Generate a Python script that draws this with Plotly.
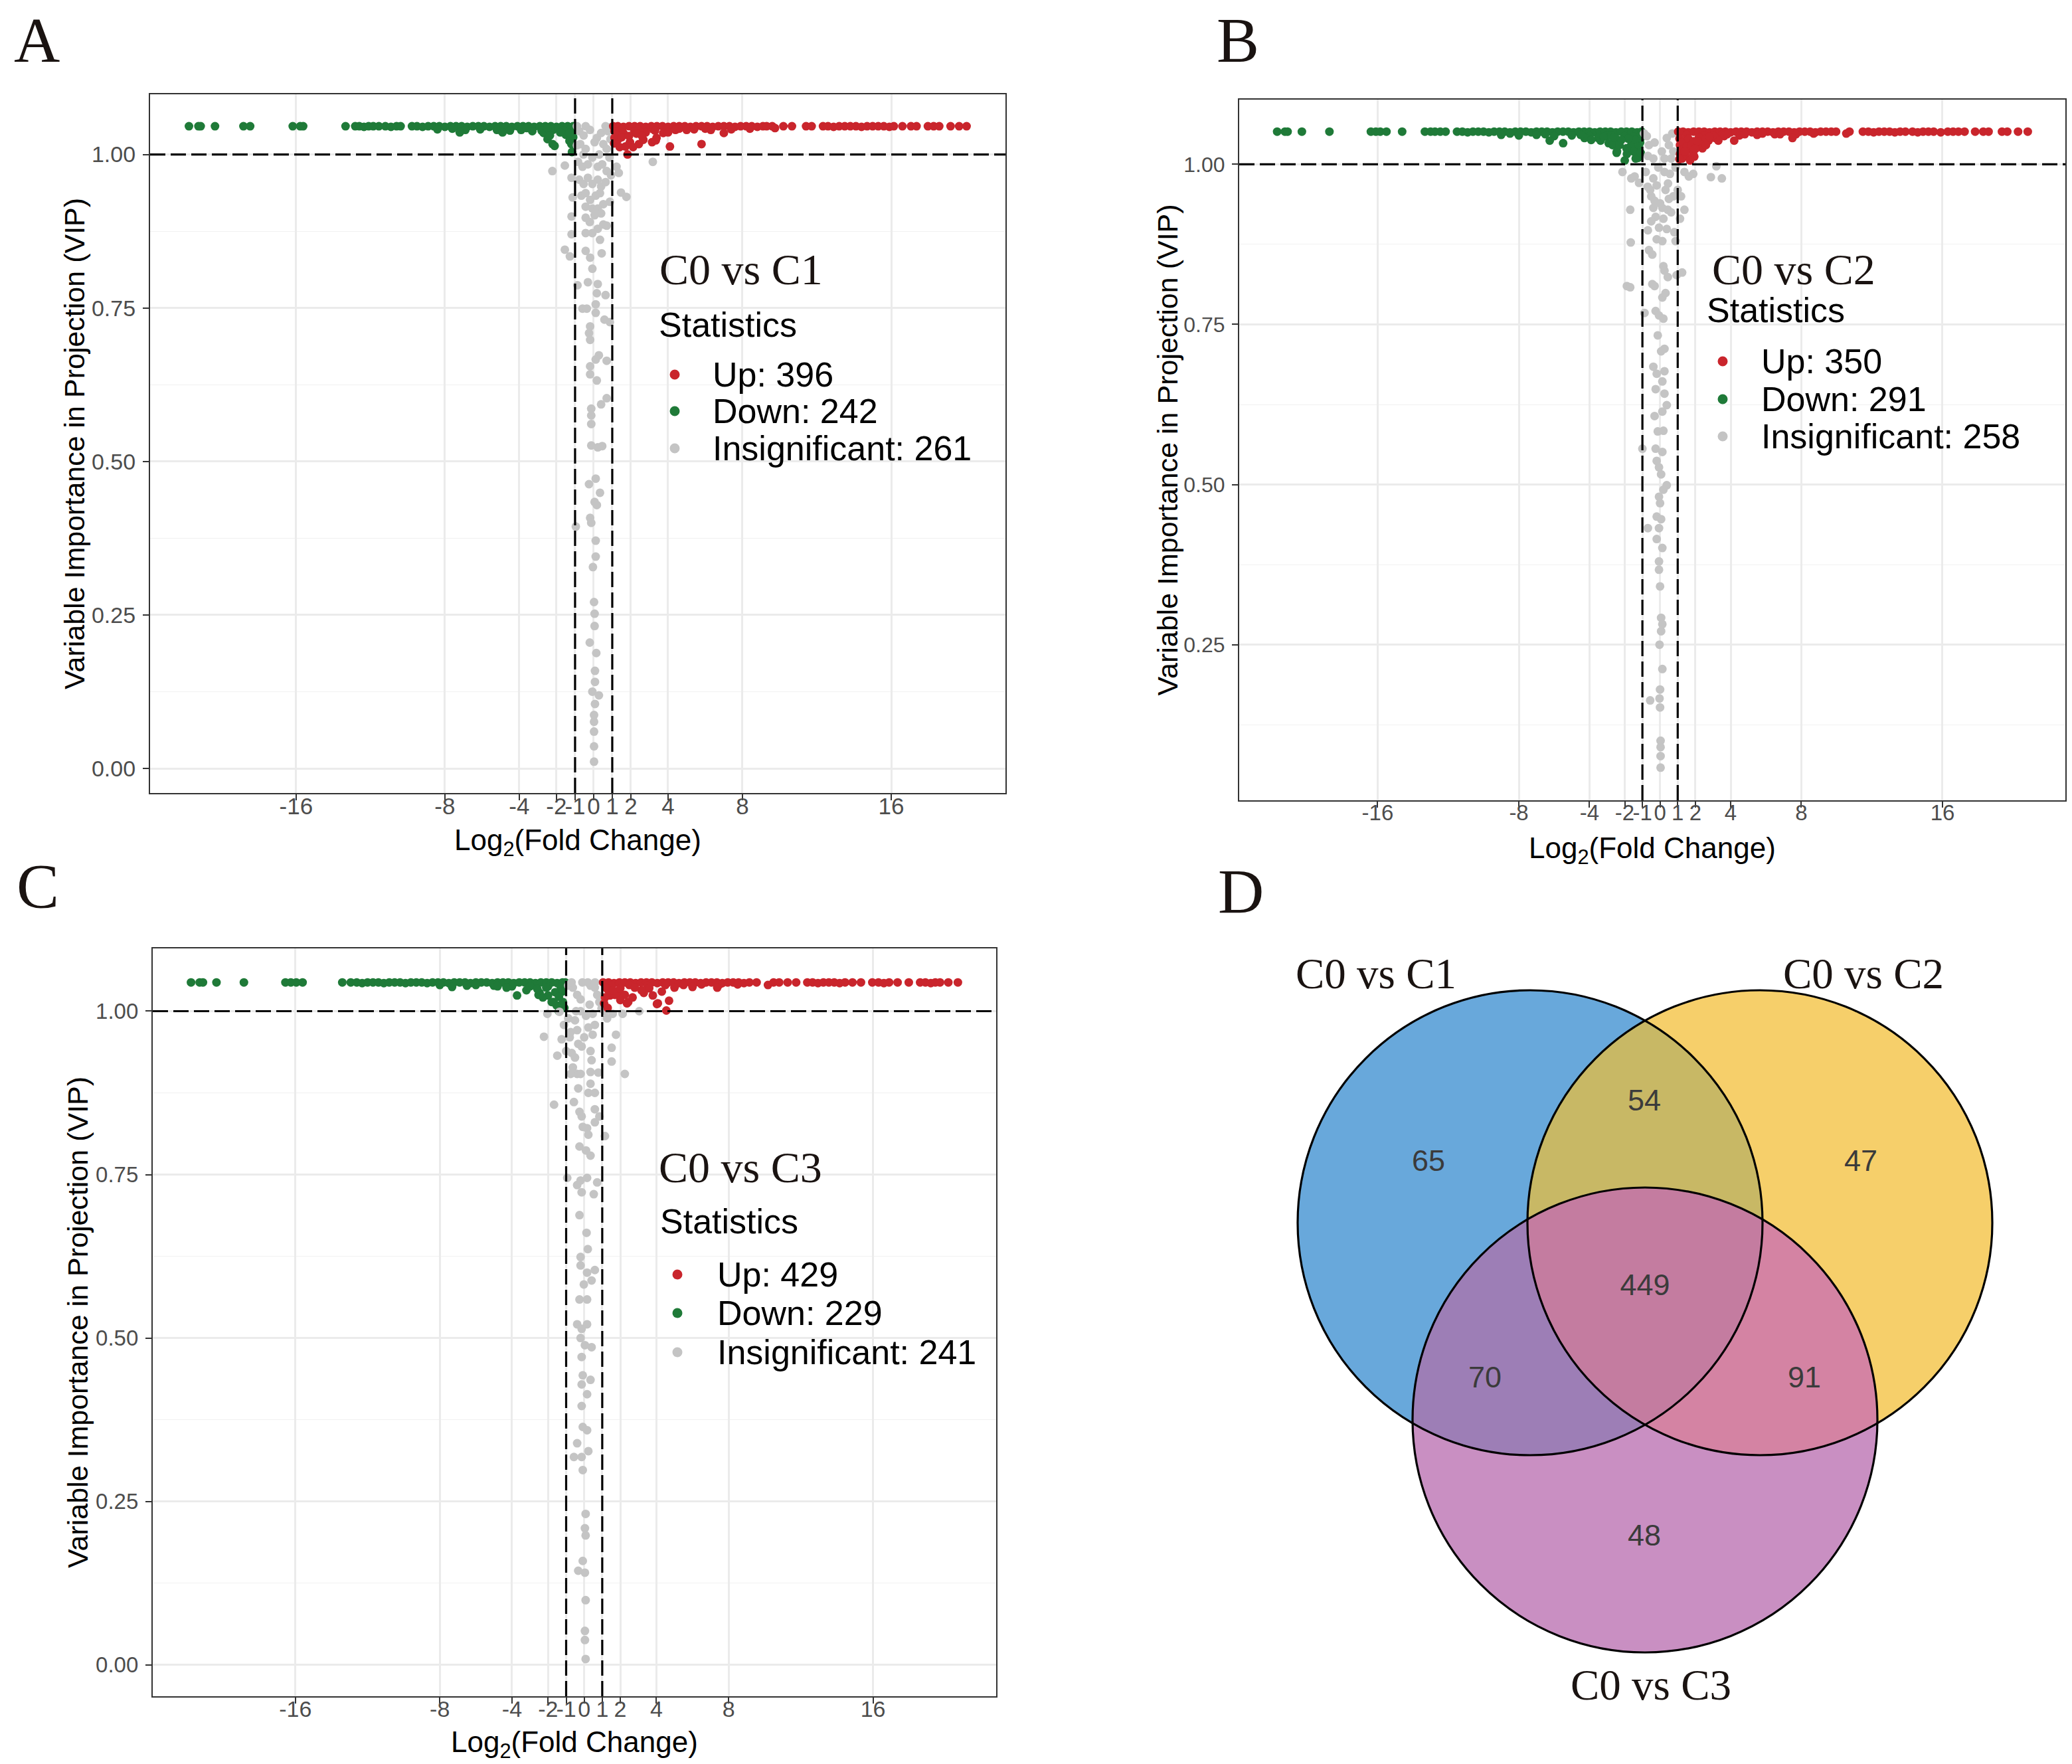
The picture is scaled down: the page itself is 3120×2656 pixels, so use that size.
import math

import plotly.graph_objects as go

W, H = 3120, 2656
OFF = 8  # the page body margin that the browser adds around the plot div
SANS = "Liberation Sans, Arial, sans-serif"
SERIF = "Liberation Serif, Times New Roman, serif"

UP_COLOR = "#C9252C"
DOWN_COLOR = "#1F7A38"
NS_COLOR = "#C4C4C4"

X_TICKS = [-16, -8, -4, -2, -1, 0, 1, 2, 4, 8, 16]
Y_TICKS_AC = [0.0, 0.25, 0.5, 0.75, 1.0]
Y_TICKS_B = [0.25, 0.5, 0.75, 1.0]
Y_MINOR = [0.125, 0.375, 0.625, 0.875]
FC_CUT = [-1, 1]
VIP_CUT = 1.0

COMPARISONS = ["C0 vs C1", "C0 vs C2", "C0 vs C3"]
N_UP = [396, 350, 429]
N_DOWN = [242, 291, 229]
N_NS = [261, 258, 241]

# (log2FC, VIP)
A_DOWN = [
    (-21.76, 1.046), (-21.25, 1.046), (-21.13, 1.046), (-20.36, 1.046), (-18.83, 1.046), (-18.47, 1.046),
    (-16.18, 1.046), (-15.78, 1.046), (-15.62, 1.046), (-13.34, 1.046), (-12.82, 1.046), (-12.6, 1.046),
    (-12.35, 1.045), (-12.1, 1.046), (-11.85, 1.046), (-11.55, 1.046), (-11.2, 1.046), (-10.9, 1.045),
    (-10.6, 1.046), (-10.38, 1.046), (-9.77, 1.046), (-9.5, 1.046), (-9.2, 1.045), (-8.9, 1.046),
    (-8.6, 1.046), (-8.3, 1.046), (-8.0, 1.045), (-7.7, 1.046), (-7.4, 1.046), (-7.1, 1.046),
    (-6.8, 1.045), (-6.5, 1.046), (-6.2, 1.046), (-5.9, 1.046), (-5.6, 1.045), (-5.3, 1.046),
    (-5.0, 1.046), (-4.7, 1.046), (-4.4, 1.045), (-4.1, 1.046), (-3.8, 1.046), (-3.5, 1.046),
    (-3.2, 1.045), (-2.9, 1.046), (-2.6, 1.046), (-2.3, 1.046), (-2.0, 1.045), (-1.7, 1.046),
    (-1.4, 1.046), (-1.1, 1.046), (-8.4, 1.041), (-7.6, 1.042), (-6.9, 1.040), (-6.1, 1.041),
    (-5.2, 1.040), (-4.5, 1.039), (-3.9, 1.040), (-3.3, 1.038), (-2.8, 1.039), (-2.2, 1.040),
    (-1.6, 1.039), (-1.2, 1.038), (-1.5, 1.032), (-1.1, 1.028), (-1.3, 1.022), (-2.69, 1.035),
    (-2.48, 1.025), (-2.21, 1.017), (-2.1, 1.014), (-1.2, 1.017), (-1.17, 1.004), (-1.14, 1.031),
    (-7.2, 1.036), (-4.9, 1.036), (-1.2, 1.044), (-1.9, 1.042), (-2.5, 1.043), (-3.6, 1.043),
    (-1.3, 1.035), (-1.8, 1.036), (-2.35, 1.031),
]
A_UP = [
    (1.05, 1.046), (1.3, 1.046), (1.6, 1.045), (1.9, 1.046), (2.2, 1.046), (2.5, 1.046), (2.8, 1.045),
    (3.1, 1.046), (3.4, 1.046), (3.7, 1.046), (4.0, 1.045), (4.3, 1.046), (4.6, 1.046), (4.9, 1.046),
    (5.2, 1.045), (5.5, 1.046), (5.8, 1.046), (6.1, 1.046), (6.4, 1.045), (6.7, 1.046), (7.0, 1.046),
    (7.3, 1.046), (7.6, 1.045), (7.9, 1.046), (8.2, 1.046), (8.5, 1.046), (8.8, 1.045), (9.1, 1.046),
    (9.3, 1.046), (9.6, 1.046), (10.2, 1.046), (10.66, 1.046), (11.42, 1.046), (11.72, 1.046),
    (12.33, 1.046), (12.6, 1.046), (12.9, 1.045), (13.2, 1.046), (13.5, 1.046), (13.8, 1.046),
    (14.1, 1.046), (14.4, 1.045), (14.7, 1.046), (15.0, 1.046), (15.3, 1.046), (15.6, 1.046),
    (15.9, 1.045), (16.14, 1.046), (16.6, 1.046), (17.06, 1.046), (17.36, 1.046), (17.97, 1.046),
    (18.28, 1.046), (18.58, 1.046), (19.19, 1.046), (19.65, 1.046), (20.05, 1.046),
    (1.5, 1.041), (2.4, 1.040), (3.2, 1.041), (4.4, 1.040), (5.4, 1.041), (6.3, 1.040), (7.4, 1.041),
    (8.4, 1.042), (1.12, 1.038), (1.6, 1.035), (2.19, 1.038), (3.74, 1.035), (1.12, 1.027), (1.3, 1.024),
    (1.71, 1.013), (1.95, 1.020), (2.43, 1.017), (2.67, 1.024), (3.14, 1.020), (3.38, 1.027), (4.1, 1.013),
    (1.82, 1.000), (2.12, 1.012), (3.34, 1.023), (5.8, 1.017), (7.0, 1.035), (9.75, 1.043),
    (1.2, 1.032), (1.5, 1.028), (1.9, 1.030), (2.3, 1.034), (2.8, 1.036), (3.3, 1.039), (1.1, 1.018),
    (1.4, 1.012), (2.6, 1.030), (4.6, 1.042), (4.0, 1.036), (5.0, 1.040), (6.0, 1.042),
]
A_NS = [
    (-2.22, 0.973), (-1.55, 0.982), (-1.19, 0.962), (-1.13, 0.930), (-1.19, 0.899), (-1.19, 0.870),
    (-1.55, 0.845), (-1.28, 0.834), (-0.87, 0.787), (-0.60, 0.749), (-0.37, 0.749), (1.47, 0.938),
    (1.76, 0.931), (1.23, 0.980), (1.35, 0.970), (3.18, 0.988), (0.87, 0.923), (0.70, 0.884),
    (0.34, 0.861), (0.43, 0.839), (-0.43, 0.872), (-0.21, 0.890), (-0.43, 0.843), (-0.19, 0.832),
    (-0.07, 0.814), (-0.31, 0.792), (0.22, 0.789), (0.17, 0.774), (0.64, 0.771), (0.11, 0.756),
    (0.11, 0.742), (0.58, 0.731), (0.87, 0.727), (-0.19, 0.720), (-0.19, 0.698), (-0.25, 0.709),
    (0.28, 0.673), (0.11, 0.666), (0.70, 0.664), (-0.19, 0.655), (-0.19, 0.642), (0.17, 0.632),
    (0.40, 0.593), (0.70, 0.603), (-0.13, 0.586), (-0.13, 0.575), (-0.13, 0.561), (-0.13, 0.526),
    (0.22, 0.523), (0.46, 0.525), (-0.25, 0.463), (0.11, 0.472), (0.34, 0.449), (0.05, 0.434),
    (0.17, 0.429), (-0.19, 0.408), (-0.13, 0.400), (-0.96, 0.394), (0.11, 0.371), (0.11, 0.345),
    (-0.04, 0.328), (0.02, 0.271), (0.05, 0.252), (0.05, 0.232), (-0.21, 0.205), (0.14, 0.188),
    (0.07, 0.159), (0.07, 0.141), (-0.07, 0.125), (0.28, 0.119), (0.07, 0.105), (0.02, 0.087),
    (0.02, 0.076), (0.02, 0.060), (0.02, 0.036), (0.02, 0.011),
    (-0.78, 1.038), (-0.54, 1.031), (-0.43, 1.046), (-0.72, 1.017), (-0.43, 1.009), (0.17, 1.027),
    (0.40, 1.035), (0.64, 1.046), (0.76, 1.038), (0.52, 1.017), (0.70, 1.009), (-0.84, 0.988),
    (-0.60, 0.980), (-0.31, 0.984), (-0.07, 0.995), (0.22, 0.980), (0.46, 0.984), (0.70, 0.973),
    (0.93, 0.966), (-0.78, 0.959), (-0.54, 0.952), (-0.31, 0.962), (-0.07, 0.952), (0.22, 0.959),
    (0.40, 0.948), (0.64, 0.955), (-0.66, 0.933), (-0.43, 0.937), (-0.19, 0.926), (0.11, 0.933),
    (0.34, 0.937), (0.52, 0.919), (-0.43, 0.915), (-0.07, 0.912), (0.22, 0.912), (-0.43, 0.897),
    (0.05, 0.901), (0.40, 0.904), (-0.07, 0.872), (0.22, 0.879), (0.52, 0.886), (0.85, 1.044),
    (0.90, 1.025), (-0.90, 1.046), (-0.20, 1.040), (0.05, 1.020), (-0.55, 1.000), (0.30, 1.000),
    (0.85, 0.995), (-0.90, 1.015),
]

# panel B
B_DOWN = [
    (-21.69, 1.051), (-21.25, 1.051), (-21.1, 1.051), (-20.29, 1.051), (-18.73, 1.051), (-16.38, 1.051),
    (-16.1, 1.051), (-15.85, 1.051), (-15.5, 1.051), (-14.61, 1.051), (-13.32, 1.051), (-13.0, 1.051),
    (-12.75, 1.051), (-12.45, 1.051), (-12.15, 1.051), (-11.5, 1.051), (-11.2, 1.051), (-10.9, 1.050),
    (-10.6, 1.051), (-10.3, 1.051), (-10.0, 1.051), (-9.7, 1.050), (-9.4, 1.051), (-9.1, 1.051),
    (-8.8, 1.051), (-8.5, 1.050), (-8.2, 1.051), (-7.9, 1.051), (-7.6, 1.051), (-7.3, 1.050),
    (-7.0, 1.051), (-6.7, 1.051), (-6.4, 1.051), (-6.1, 1.050), (-5.8, 1.051), (-5.5, 1.051),
    (-5.2, 1.051), (-4.9, 1.050), (-4.6, 1.051), (-4.3, 1.051), (-4.0, 1.051), (-3.7, 1.050),
    (-3.4, 1.051), (-3.1, 1.051), (-2.8, 1.051), (-2.5, 1.050), (-2.2, 1.051), (-1.9, 1.051),
    (-1.6, 1.051), (-1.3, 1.050), (-1.05, 1.051), (-9.0, 1.046), (-8.0, 1.045), (-7.0, 1.046),
    (-6.0, 1.044), (-5.0, 1.045), (-4.0, 1.044), (-3.0, 1.045), (-2.0, 1.044), (-1.5, 1.043),
    (-1.1, 1.041), (-2.5, 1.040), (-3.5, 1.041), (-5.49, 1.033), (-6.25, 1.037), (-2.91, 1.033),
    (-2.46, 1.018), (-2.0, 1.006), (-1.25, 1.010), (-1.57, 1.025), (-4.28, 1.041), (-3.37, 1.037),
    (-2.76, 1.045), (-2.69, 1.030), (-2.44, 1.020), (-1.88, 1.016), (-1.38, 1.009), (-1.25, 1.023),
    (-1.13, 1.034), (-1.63, 1.030), (-1.1, 1.045), (-1.4, 1.038), (-1.8, 1.040), (-2.2, 1.038),
    (-2.6, 1.042), (-1.2, 1.028), (-1.5, 1.020), (-1.9, 1.025), (-1.1, 1.018), (-3.2, 1.043),
    (-4.5, 1.046), (-6.5, 1.047), (-8.5, 1.048), (-3.9, 1.038), (-2.3, 1.030),
]
B_UP = [
    (1.03, 1.051), (1.3, 1.051), (1.6, 1.050), (1.9, 1.051), (2.2, 1.051), (2.5, 1.051), (2.8, 1.050),
    (3.1, 1.051), (3.4, 1.051), (3.7, 1.051), (4.0, 1.050), (4.3, 1.051), (4.6, 1.051), (4.9, 1.051),
    (5.2, 1.050), (5.5, 1.051), (5.8, 1.051), (6.1, 1.051), (6.4, 1.050), (6.7, 1.051), (7.0, 1.051),
    (7.3, 1.051), (7.6, 1.050), (7.9, 1.051), (8.2, 1.051), (8.5, 1.051), (8.8, 1.050), (9.1, 1.051),
    (9.4, 1.051), (9.7, 1.051), (9.97, 1.051), (10.55, 1.048), (10.73, 1.051), (11.49, 1.051),
    (11.8, 1.051), (12.1, 1.050), (12.4, 1.051), (12.7, 1.051), (13.0, 1.051), (13.3, 1.050),
    (13.6, 1.051), (13.9, 1.051), (14.3, 1.051), (14.6, 1.050), (14.9, 1.051), (15.2, 1.051),
    (15.5, 1.051), (15.9, 1.050), (16.3, 1.051), (16.6, 1.051), (16.9, 1.051), (17.25, 1.051),
    (17.85, 1.051), (18.31, 1.051), (18.61, 1.051), (19.37, 1.051), (19.67, 1.051), (20.28, 1.051),
    (20.83, 1.051), (1.5, 1.046), (2.5, 1.045), (3.5, 1.046), (4.5, 1.045), (5.5, 1.046), (6.5, 1.047),
    (7.7, 1.047), (8.7, 1.048), (1.13, 1.016), (1.25, 1.009), (1.44, 1.013), (1.63, 1.023), (1.88, 1.016),
    (2.13, 1.030), (2.38, 1.034), (2.75, 1.037), (3.13, 1.041), (3.63, 1.044), (1.38, 1.034), (1.13, 1.030),
    (1.94, 1.012), (2.4, 1.025), (3.3, 1.037), (4.2, 1.037), (7.5, 1.041),
    (1.1, 1.040), (1.3, 1.035), (1.6, 1.040), (1.9, 1.036), (2.2, 1.042), (2.6, 1.040), (3.0, 1.045),
    (1.2, 1.022), (1.5, 1.028), (1.8, 1.030), (2.1, 1.036), (1.1, 1.008), (1.4, 1.020), (2.0, 1.024),
    (2.8, 1.043), (3.8, 1.047), (4.8, 1.047), (5.8, 1.048), (6.8, 1.047), (1.7, 1.006), (2.6, 1.030),
]
B_NS = [
    (-2.13, 0.988), (-1.63, 0.978), (-1.44, 0.981), (-1.19, 0.971), (-1.69, 0.929), (-1.66, 0.878),
    (-1.88, 0.810), (-1.69, 0.808), (-0.75, 1.044), (-0.63, 1.030), (-0.31, 1.034), (-0.69, 1.013),
    (0.38, 1.041), (0.69, 1.048), (0.50, 1.030), (0.75, 1.020), (-0.81, 0.988), (-0.38, 0.978),
    (-0.19, 0.967), (0.25, 0.988), (0.56, 0.985), (0.88, 0.995), (1.38, 0.988), (1.63, 0.981),
    (1.88, 0.985), (2.88, 0.980), (3.50, 0.978), (3.19, 0.997), (-0.50, 0.950), (-0.38, 0.932),
    (-0.25, 0.918), (0.13, 0.932), (0.44, 0.929), (0.75, 0.950), (1.00, 0.960), (1.19, 0.950),
    (1.38, 0.929), (1.13, 0.915), (-0.69, 0.897), (-0.50, 0.911), (-0.06, 0.901), (0.38, 0.899),
    (0.81, 0.894), (-0.19, 0.883), (0.13, 0.880), (0.88, 0.880), (-0.63, 0.866), (-0.44, 0.859),
    (0.19, 0.841), (0.25, 0.834), (0.94, 0.827), (1.25, 0.831), (-0.44, 0.813), (-0.31, 0.810),
    (0.44, 0.824), (0.13, 0.792), (0.31, 0.799), (-0.88, 0.768), (-0.25, 0.771), (-0.06, 0.764),
    (0.19, 0.759), (-0.13, 0.733), (0.06, 0.708), (0.25, 0.712), (-0.38, 0.684), (-0.19, 0.673),
    (0.25, 0.677), (0.13, 0.661), (-0.25, 0.649), (0.25, 0.642), (0.38, 0.624), (-0.31, 0.607),
    (0.13, 0.614), (-0.13, 0.583), (0.19, 0.584), (-1.00, 0.556), (-0.25, 0.556), (0.13, 0.551),
    (-0.19, 0.537), (-0.06, 0.527), (0.06, 0.516), (0.38, 0.499), (0.19, 0.492), (-0.06, 0.481),
    (0.00, 0.471), (-0.19, 0.450), (0.06, 0.446), (-0.06, 0.432), (-0.69, 0.432), (-0.19, 0.415),
    (0.13, 0.401), (-0.06, 0.380), (-0.06, 0.367), (0.00, 0.341), (0.06, 0.292), (0.13, 0.282),
    (0.06, 0.271), (-0.03, 0.250), (0.13, 0.212), (-0.56, 0.163), (0.00, 0.180), (-0.03, 0.166),
    (0.00, 0.152), (0.03, 0.100), (0.03, 0.090), (0.03, 0.076), (0.03, 0.058),
    (-0.56, 0.960), (-0.31, 0.943), (0.00, 0.939), (0.31, 0.960), (0.50, 0.946), (0.19, 0.915),
    (0.63, 0.925), (-0.38, 1.009), (0.25, 1.009), (0.63, 1.009), (-0.90, 1.048), (0.10, 1.020),
    (-0.10, 0.995), (0.45, 0.970), (-0.70, 0.965),
]

# panel C
C_DOWN = [
    (-21.78, 1.044), (-21.3, 1.044), (-21.12, 1.044), (-20.37, 1.044), (-18.85, 1.044), (-16.55, 1.044),
    (-16.25, 1.044), (-15.95, 1.044), (-15.6, 1.044), (-13.4, 1.044), (-12.93, 1.044), (-12.6, 1.044),
    (-12.3, 1.043), (-12.0, 1.044), (-11.7, 1.044), (-11.4, 1.044), (-11.1, 1.043), (-10.8, 1.044),
    (-10.5, 1.044), (-10.2, 1.044), (-9.9, 1.043), (-9.6, 1.044), (-9.3, 1.044), (-9.0, 1.044),
    (-8.7, 1.043), (-8.4, 1.044), (-8.1, 1.044), (-7.8, 1.044), (-7.5, 1.043), (-7.2, 1.044),
    (-6.9, 1.044), (-6.6, 1.044), (-6.3, 1.043), (-6.0, 1.044), (-5.7, 1.044), (-5.4, 1.044),
    (-5.1, 1.043), (-4.8, 1.044), (-4.5, 1.044), (-4.2, 1.044), (-3.9, 1.043), (-3.6, 1.044),
    (-3.3, 1.044), (-3.0, 1.044), (-2.7, 1.043), (-2.4, 1.044), (-2.1, 1.044), (-1.8, 1.044),
    (-1.5, 1.043), (-1.2, 1.044), (-1.05, 1.044), (-8.0, 1.040), (-6.5, 1.039), (-5.0, 1.039),
    (-4.0, 1.038), (-3.0, 1.038), (-2.0, 1.038), (-1.3, 1.037), (-7.32, 1.037), (-3.72, 1.024),
    (-2.47, 1.028), (-1.69, 1.014), (-1.53, 1.009), (-2.0, 1.024), (-4.3, 1.036), (-2.53, 1.025),
    (-2.29, 1.021), (-1.8, 1.014), (-1.18, 1.014), (-1.61, 1.029), (-2.1, 1.036),
    (-1.2, 1.030), (-1.4, 1.022), (-2.6, 1.034), (-3.2, 1.032), (-4.8, 1.038), (-6.0, 1.040),
    (-1.1, 1.005), (-1.4, 1.000),
]
C_UP = [
    (1.05, 1.044), (1.35, 1.044), (1.65, 1.043), (1.95, 1.044), (2.25, 1.044), (2.55, 1.044), (2.85, 1.043),
    (3.15, 1.044), (3.45, 1.044), (3.75, 1.044), (4.05, 1.043), (4.35, 1.044), (4.65, 1.044), (4.95, 1.044),
    (5.25, 1.043), (5.55, 1.044), (5.85, 1.044), (6.15, 1.044), (6.45, 1.043), (6.75, 1.044), (7.05, 1.044),
    (7.35, 1.044), (7.65, 1.043), (7.95, 1.044), (8.25, 1.044), (8.55, 1.044), (8.85, 1.043), (9.15, 1.044),
    (9.55, 1.044), (10.18, 1.040), (10.49, 1.044), (10.8, 1.044), (11.27, 1.044), (11.74, 1.044),
    (12.36, 1.044), (12.65, 1.044), (12.95, 1.043), (13.25, 1.044), (13.55, 1.044), (13.85, 1.044),
    (14.15, 1.043), (14.45, 1.044), (14.86, 1.044), (15.33, 1.044), (15.96, 1.044), (16.3, 1.044),
    (16.6, 1.043), (16.89, 1.044), (17.36, 1.044), (17.98, 1.044), (18.61, 1.044), (18.9, 1.044),
    (19.2, 1.043), (19.45, 1.044), (19.71, 1.044), (20.17, 1.044), (20.7, 1.044),
    (1.5, 1.039), (2.5, 1.040), (3.5, 1.039), (4.5, 1.040), (5.5, 1.040), (6.5, 1.041), (7.5, 1.041),
    (8.5, 1.041), (1.43, 1.024), (2.37, 1.012), (4.08, 1.012), (4.55, 1.001), (4.7, 1.016), (7.37, 1.036),
    (1.9, 1.028), (3.3, 1.028), (1.15, 1.021), (2.44, 1.014), (2.25, 1.025), (3.17, 1.032), (2.68, 1.021),
    (4.03, 1.011), (1.7, 1.025), (1.33, 1.032), (1.2, 1.036), (1.6, 1.032), (2.0, 1.035), (2.8, 1.036),
    (3.6, 1.035), (1.1, 1.012), (1.3, 1.005), (2.0, 1.017), (3.8, 1.024), (4.3, 1.030), (5.0, 1.036),
    (6.0, 1.037),
]
C_NS = [
    (-2.23, 0.961), (-2.04, 0.996), (-1.49, 0.932), (-1.67, 0.857), (-1.25, 0.957), (-1.37, 0.999),
    (-1.12, 0.979), (-0.88, 1.039), (-0.63, 1.036), (-0.39, 1.025), (-0.20, 1.018), (0.35, 1.039),
    (0.59, 1.036), (0.72, 1.025), (0.84, 1.014), (-0.88, 0.989), (-0.51, 0.986), (-0.20, 1.000),
    (0.10, 0.993), (0.47, 0.996), (0.96, 1.004), (1.15, 1.000), (1.27, 0.989), (1.58, 0.996),
    (2.13, 0.996), (3.05, 1.000), (1.76, 0.964), (1.52, 0.944), (1.52, 0.923), (2.25, 0.904),
    (-0.75, 0.968), (-0.39, 0.971), (0.23, 0.975), (0.47, 0.964), (0.59, 0.979), (-1.00, 0.939),
    (-0.69, 0.936), (-0.51, 0.929), (-0.33, 0.950), (-0.14, 0.946), (0.35, 0.939), (0.41, 0.925),
    (-0.63, 0.914), (-0.39, 0.904), (-0.75, 0.904), (-0.20, 0.904), (0.35, 0.907), (0.78, 0.906),
    (0.35, 0.889), (0.23, 0.875), (0.59, 0.875), (-0.33, 0.882), (-0.57, 0.861), (-0.26, 0.846),
    (-0.14, 0.839), (0.59, 0.850), (0.84, 0.839), (0.59, 0.830), (-0.08, 0.823), (0.16, 0.821),
    (0.23, 0.811), (1.15, 0.809), (-0.26, 0.793), (0.10, 0.787), (0.35, 0.779), (-0.94, 0.745),
    (-0.20, 0.741), (0.16, 0.745), (-0.39, 0.734), (-0.14, 0.723), (0.72, 0.738), (0.53, 0.720),
    (-0.26, 0.688), (0.13, 0.661), (0.20, 0.636), (-0.20, 0.624), (-0.20, 0.611), (0.16, 0.600),
    (0.59, 0.604), (0.41, 0.588), (-0.02, 0.582), (-0.26, 0.559), (0.16, 0.559), (-0.39, 0.521),
    (0.16, 0.521), (-0.14, 0.514), (0.41, 0.486), (-0.20, 0.500), (0.04, 0.489), (-0.14, 0.471),
    (-0.08, 0.443), (0.35, 0.436), (-0.14, 0.429), (0.16, 0.414), (-0.14, 0.396), (-0.08, 0.364),
    (0.16, 0.359), (-0.39, 0.339), (0.23, 0.327), (-0.57, 0.318), (-0.14, 0.318), (-0.08, 0.298),
    (0.08, 0.231), (0.04, 0.209), (0.08, 0.198), (-0.08, 0.159), (-0.33, 0.144), (0.04, 0.141),
    (0.08, 0.099), (0.04, 0.052), (0.04, 0.038), (0.08, 0.009),
    (-0.70, 1.044), (-0.10, 1.044), (0.20, 1.044), (0.60, 1.044), (-0.45, 1.000), (0.30, 1.010),
    (0.00, 0.960), (-0.80, 0.960),
]

# Venn counts: C1 only, C1&C2, C2 only, all three, C1&C3, C2&C3, C3 only
VENN_COUNTS = [65, 54, 47, 449, 70, 91, 48]

# ---- layout (pixels of the 3120 x 2656 page) ----
PANELS = [
    dict(dom_x=(226, 1514), dom_y=(142, 1194), xr=[-23.85, 22.14], yr=[-0.040, 1.098],
         yt=Y_TICKS_AC, tick=34, ytitle_x=112, xtitle_y=1268, letter="A", letter_xy=(55, 61),
         box=(945, 379, 1500, 772), head=(1116, 405), stat=(990, 489), dot_x=1016, txt_x=1071,
         rows=(564, 619, 675)),
    dict(dom_x=(1866, 3110), dom_y=(150, 1205), xr=[-23.84, 22.96], yr=[0.007, 1.101],
         yt=Y_TICKS_B, tick=32, ytitle_x=1757, xtitle_y=1280, letter="B", letter_xy=(1864, 61),
         box=(2545, 381, 3074, 768), head=(2701, 406), stat=(2568, 467), dot_x=2594, txt_x=2650,
         rows=(544, 601, 657)),
    dict(dom_x=(230, 1500), dom_y=(1428, 2554), xr=[-23.9, 22.82], yr=[-0.048, 1.096],
         yt=Y_TICKS_AC, tick=33, ytitle_x=117, xtitle_y=2626, letter="C", letter_xy=(57, 1334),
         box=(969, 1730, 1496, 2126), head=(1115, 1757), stat=(992, 1839), dot_x=1020, txt_x=1078,
         rows=(1919, 1977, 2036)),
]
GROUPS = [(A_DOWN, A_NS, A_UP), (B_DOWN, B_NS, B_UP), (C_DOWN, C_NS, C_UP)]

VENN_CENTERS = [(2304, 1841), (2650, 1841), (2477, 2138)]
VENN_R = 350
VENN_FILL = ["#68A8DB", "#F6CF6A", "#C98FC2"]
VENN_PAIR_FILL = {(0, 1): "#C8B865", (0, 2): "#9D7EB6", (1, 2): "#D483A3"}
VENN_CORE_FILL = "#C47CA0"
VENN_LABEL_XY = [(2151, 1752), (2476, 1661), (2802, 1752), (2477, 1939),
                 (2236, 2078), (2717, 2078), (2476, 2316)]
VENN_SET_XY = [(2072, 1466), (2806, 1466), (2486, 2537)]


def px(x):
    return (x - OFF) / W


def py(y):
    return 1 - (y - OFF) / H


def note(text, x, y, size, family=SANS, color="black", xanchor="center"):
    return dict(text=text, x=px(x), y=py(y), xref="paper", yref="paper", showarrow=False,
                xanchor=xanchor, yanchor="middle", font=dict(size=size, family=family, color=color))


def region_path(members, n=1440):
    pts = []
    for i in members:
        cx, cy = VENN_CENTERS[i]
        for k in range(n):
            t = 2 * math.pi * k / n
            x, y = cx + VENN_R * math.cos(t), cy + VENN_R * math.sin(t)
            ok = all(math.hypot(x - VENN_CENTERS[j][0], y - VENN_CENTERS[j][1]) <= VENN_R + 1e-6
                     for j in members if j != i)
            if ok:
                pts.append((x, y))
    mx = sum(p[0] for p in pts) / len(pts)
    my = sum(p[1] for p in pts) / len(pts)
    pts.sort(key=lambda p: math.atan2(p[1] - my, p[0] - mx))
    return "M " + " L ".join(f"{x:.1f},{y:.1f}" for x, y in pts) + " Z"


fig = go.Figure()
shapes = []
annotations = []
layout_axes = {}

for i, (p, groups) in enumerate(zip(PANELS, GROUPS)):
    n = "" if i == 0 else str(i + 1)
    xref, yref = f"x{n}", f"y{n}"
    for pts, color in zip(groups, [DOWN_COLOR, NS_COLOR, UP_COLOR]):
        fig.add_trace(go.Scatter(
            x=[q[0] for q in pts], y=[q[1] for q in pts], xaxis=xref, yaxis=yref,
            mode="markers", marker=dict(size=13, color=color, line=dict(width=0)),
            showlegend=False, hoverinfo="x+y",
        ))

    tickfont = dict(family=SANS, size=p["tick"], color="#4D4D4D")
    common = dict(showgrid=True, gridcolor="#EBEBEB", gridwidth=2.6, zeroline=False, showline=True,
                  mirror=True, linecolor="#333333", linewidth=2.2, ticks="outside", ticklen=9,
                  tickwidth=2.4, tickcolor="#333333", tickfont=tickfont, fixedrange=True)
    layout_axes[f"xaxis{n}"] = dict(
        common, domain=[px(p["dom_x"][0]), px(p["dom_x"][1])], range=p["xr"], anchor=yref,
        tickmode="array", tickvals=X_TICKS, ticktext=[str(v) for v in X_TICKS], tickangle=0,
        ticklabelstandoff=-21, tickfont=dict(tickfont, size=p["tick"] + 1),
    )
    layout_axes[f"yaxis{n}"] = dict(
        common, domain=[py(p["dom_y"][1]), py(p["dom_y"][0])], range=p["yr"], anchor=xref,
        tickmode="array", tickvals=p["yt"], ticktext=[f"{v:.2f}" for v in p["yt"]],
        ticklabelstandoff=4,
        minor=dict(tickvals=Y_MINOR, showgrid=True, gridcolor="#F1F1F1", gridwidth=1.4, ticks=""),
    )

    # threshold lines
    dash = dict(color="black", width=3.2, dash="23px,8px")
    for c in FC_CUT:
        shapes.append(dict(type="line", xref=xref, yref=f"{yref} domain", x0=c, x1=c, y0=0, y1=1,
                           line=dash, layer="above"))
    shapes.append(dict(type="line", xref=f"{xref} domain", yref=yref, x0=0, x1=1, y0=VIP_CUT,
                       y1=VIP_CUT, line=dash, layer="above"))

    # legend box and entries
    bx0, by0, bx1, by1 = p["box"]
    shapes.append(dict(type="rect", xref="paper", yref="paper", x0=px(bx0), x1=px(bx1),
                       y0=py(by1), y1=py(by0), fillcolor="white", line=dict(width=0),
                       layer="between"))
    annotations.append(note(COMPARISONS[i], p["head"][0], p["head"][1], 66, SERIF, "#1a1311"))
    annotations.append(note("Statistics", p["stat"][0], p["stat"][1], 52, xanchor="left"))
    labels = [f"Up: {N_UP[i]}", f"Down: {N_DOWN[i]}", f"Insignificant: {N_NS[i]}"]
    for lab, yy, col in zip(labels, p["rows"], [UP_COLOR, DOWN_COLOR, NS_COLOR]):
        r = 7.5
        shapes.append(dict(type="circle", xref="paper", yref="paper",
                           x0=px(p["dot_x"] - r), x1=px(p["dot_x"] + r),
                           y0=py(yy + r), y1=py(yy - r), fillcolor=col, line=dict(width=0)))
        annotations.append(note(lab, p["txt_x"], yy, 52, xanchor="left"))

    # axis titles and panel letter
    ymid = (p["dom_y"][0] + p["dom_y"][1]) / 2
    xmid = (p["dom_x"][0] + p["dom_x"][1]) / 2
    a = note("Variable Importance in Projection (VIP)", p["ytitle_x"], ymid, 43)
    a["textangle"] = -90
    annotations.append(a)
    annotations.append(note("Log<sub>2</sub>(Fold Change)", xmid, p["xtitle_y"], 44))
    annotations.append(note(p["letter"], p["letter_xy"][0], p["letter_xy"][1], 96, SERIF, "#1a1311"))

# ---- Venn diagram (panel D) ----
layout_axes["xaxis4"] = dict(domain=[px(1872), px(3120)], range=[1872, 3120], visible=False,
                             anchor="y4", fixedrange=True)
layout_axes["yaxis4"] = dict(domain=[py(2656), py(1300)], range=[2656, 1300], visible=False,
                             anchor="x4", fixedrange=True)
for (cx, cy), col in zip(VENN_CENTERS, VENN_FILL):
    shapes.append(dict(type="circle", xref="x4", yref="y4", x0=cx - VENN_R, x1=cx + VENN_R,
                       y0=cy - VENN_R, y1=cy + VENN_R, fillcolor=col, line=dict(width=0),
                       layer="below"))
for pair, col in VENN_PAIR_FILL.items():
    shapes.append(dict(type="path", xref="x4", yref="y4", path=region_path(pair), fillcolor=col,
                       line=dict(width=0), layer="below"))
shapes.append(dict(type="path", xref="x4", yref="y4", path=region_path((0, 1, 2)),
                   fillcolor=VENN_CORE_FILL, line=dict(width=0), layer="below"))
for cx, cy in VENN_CENTERS:
    shapes.append(dict(type="circle", xref="x4", yref="y4", x0=cx - VENN_R, x1=cx + VENN_R,
                       y0=cy - VENN_R, y1=cy + VENN_R, fillcolor="rgba(0,0,0,0)",
                       line=dict(color="black", width=3.2), layer="below"))

fig.add_trace(go.Scatter(
    x=[q[0] for q in VENN_LABEL_XY], y=[q[1] for q in VENN_LABEL_XY], xaxis="x4", yaxis="y4",
    mode="text", text=[str(v) for v in VENN_COUNTS],
    textfont=dict(family=SANS, size=45, color="#3B3B3B"), showlegend=False, hoverinfo="text",
))
for name, (x, y) in zip(COMPARISONS, VENN_SET_XY):
    annotations.append(note(name, x, y, 65, SERIF, "#1a1311"))
annotations.append(note("D", 1868, 1342, 96, SERIF, "#1a1311"))

fig.update_layout(
    width=W, height=H, margin=dict(l=0, r=0, t=0, b=0),
    paper_bgcolor="white", plot_bgcolor="white",
    showlegend=False, shapes=shapes, annotations=annotations,
    **layout_axes,
)

fig.write_html("out.html")
